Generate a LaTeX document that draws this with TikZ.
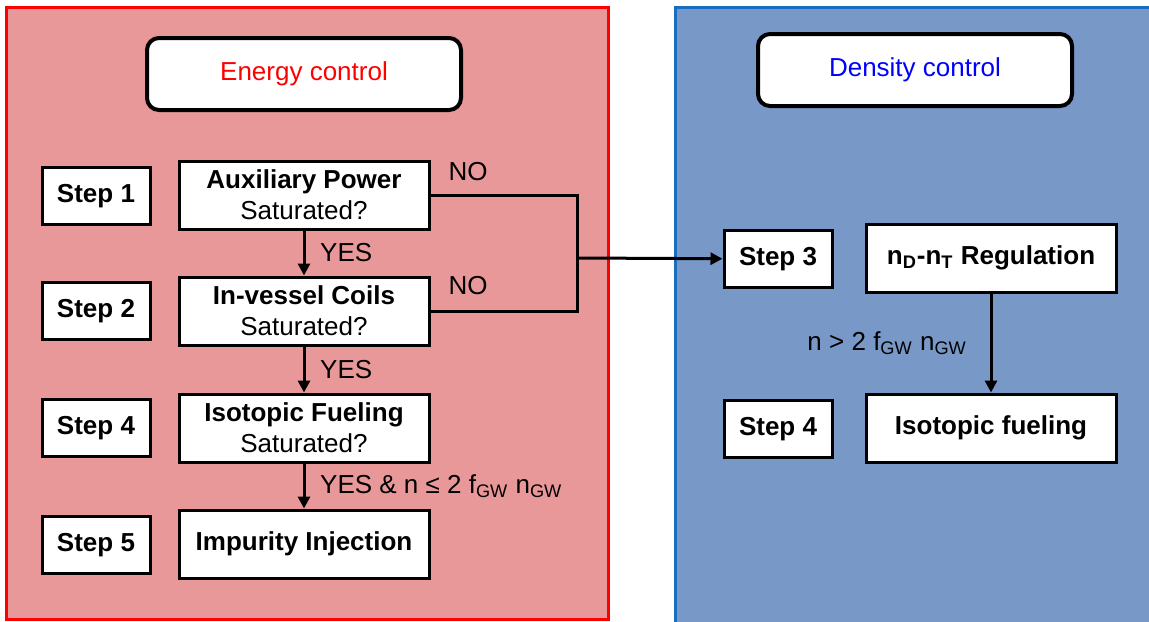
\documentclass[tikz,border=0pt]{standalone}
\usepackage{fontspec}
\setmainfont{Liberation Sans}
\usetikzlibrary{arrows.meta,positioning}
\definecolor{energyfill}{RGB}{232,152,152}
\definecolor{densityfill}{RGB}{120,152,200}
\definecolor{densityline}{RGB}{25,110,190}
\tikzset{
 >={Triangle[length=6pt,width=6pt]},
 every node/.style={font=\fontsize{13}{15.5}\selectfont},
 titlebox/.style={draw,line width=2pt,fill=white,rounded corners=6pt,
   minimum width=157pt,minimum height=36pt},
 stepbox/.style={draw,line width=1.5pt,fill=white,minimum width=54pt,
   minimum height=28.5pt,font=\fontsize{13}{15.5}\selectfont\bfseries},
 taskbox/.style={draw,line width=1.5pt,fill=white,minimum width=125pt,
   minimum height=34pt,align=center,inner sep=1pt},
 flow/.style={line width=1.5pt}
}

\begin{document}
\begin{tikzpicture}[x=0.5pt,y=-0.5pt]
\useasboundingbox (0,0) rectangle (1149,621);

% the two panels
\draw[red,line width=1.5pt,fill=energyfill] (6,7) rectangle (608,619);
\draw[densityline,line width=1.5pt,fill=densityfill] (675,7) rectangle (1160,630);

\path (304,74) node[name=energy,titlebox,text=red] {Energy control};
\path (915,70) node[name=density,titlebox,text=blue] {Density control};

% energy control
\path (96,196) node[name=s1,stepbox] {Step 1};
\path (96,311) node[name=s2,stepbox] {Step 2};
\path (96,428) node[name=s4,stepbox] {Step 4};
\path (96,545) node[name=s5,stepbox] {Step 5};

\path (304,195) node[name=aux,taskbox] {\textbf{Auxiliary Power}\\Saturated?};
\path (304,311) node[name=coils,taskbox] {\textbf{In-vessel Coils}\\Saturated?};
\path (304,428) node[name=fuel,taskbox] {\textbf{Isotopic Fueling}\\Saturated?};
\path (304,544) node[name=imp,taskbox] {\textbf{Impurity Injection}};

\draw[->,flow] (aux) -- node[right,xshift=4pt]{YES} (coils);
\draw[->,flow] (coils) -- node[right,xshift=4pt]{YES} (fuel);
\draw[->,flow] (fuel) -- node[right,xshift=4pt]
  {YES \& n ≤ 2 f\textsubscript{GW} n\textsubscript{GW}} (imp);

% not saturated: go to density control
\draw[flow] (aux.east) -- (577,195) |- (coils.east);
\coordinate (junc) at (577,258);
\path (468,172) node {NO};
\path (468,286) node {NO};

% density control
\path (778,259) node[name=s3,stepbox] {Step 3};
\path (778,429) node[name=s4r,stepbox] {Step 4};
\path (991,258) node[name=reg,taskbox] {\textbf{n\textsubscript{D}-n\textsubscript{T} Regulation}};
\path (991,428) node[name=isofuel,taskbox] {\textbf{Isotopic fueling}};

\draw[->,flow] (junc) -- (s3);
\draw[->,flow] (reg) -- node[left,xshift=-8pt]
  {n > 2 f\textsubscript{GW} n\textsubscript{GW}} (isofuel);
\end{tikzpicture}
\end{document}
